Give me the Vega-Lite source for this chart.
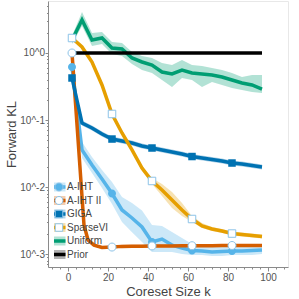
{
  "$schema": "https://vega.github.io/schema/vega-lite/v6.json",
  "width": 240,
  "height": 266,
  "autosize": {"type": "none"},
  "padding": {"left": 48, "top": 1, "right": 11, "bottom": 32},
  "config": {
    "font": "Liberation Sans",
    "view": {"stroke": "#e8e8e8", "strokeWidth": 1},
    "axis": {"grid": false, "domainColor": "#8a8a8a", "tickColor": "#8a8a8a", "labelColor": "#555555", "labelFontSize": 10, "titleColor": "#444444", "titleFontSize": 13, "titleFontWeight": "normal", "labelOverlap": false, "labelFlush": false},
    "legend": {"orient": "none", "legendX": 6, "legendY": 179.5, "title": null, "padding": 0, "labelFontSize": 10, "labelColor": "#444444", "symbolSize": 25, "rowPadding": 0.5, "labelOffset": 3, "clipHeight": 13}
  },
  "datasets": {
    "d": [
      {"s": "A-IHT", "k": 2, "v": 0.618, "lo": 0.557, "hi": 0.685},
      {"s": "A-IHT", "k": 7, "v": 0.0357, "lo": 0.0271, "hi": 0.0469},
      {"s": "A-IHT", "k": 12, "v": 0.0213, "lo": 0.0162, "hi": 0.028},
      {"s": "A-IHT", "k": 17, "v": 0.01316, "lo": 0.00966, "hi": 0.018},
      {"s": "A-IHT", "k": 22, "v": 0.008, "lo": 0.00557, "hi": 0.0119},
      {"s": "A-IHT", "k": 27, "v": 0.00454, "lo": 0.00301, "hi": 0.00709},
      {"s": "A-IHT", "k": 32, "v": 0.00345, "lo": 0.00212, "hi": 0.00577},
      {"s": "A-IHT", "k": 37, "v": 0.00253, "lo": 0.00151, "hi": 0.00447},
      {"s": "A-IHT", "k": 42, "v": 0.00151, "lo": 0.00107, "hi": 0.00271},
      {"s": "A-IHT", "k": 47, "v": 0.00167, "lo": 0.00107, "hi": 0.00262},
      {"s": "A-IHT", "k": 52, "v": 0.00136, "lo": 0.00107, "hi": 0.00213},
      {"s": "A-IHT", "k": 57, "v": 0.00123, "lo": 0.001, "hi": 0.00173},
      {"s": "A-IHT", "k": 62, "v": 0.00113, "lo": 0.000966, "hi": 0.00141},
      {"s": "A-IHT", "k": 67, "v": 0.00111, "lo": 0.000966, "hi": 0.00132},
      {"s": "A-IHT", "k": 72, "v": 0.00107, "lo": 0.000933, "hi": 0.00127},
      {"s": "A-IHT", "k": 77, "v": 0.00109, "lo": 0.000933, "hi": 0.00132},
      {"s": "A-IHT", "k": 82, "v": 0.00111, "lo": 0.000966, "hi": 0.00132},
      {"s": "A-IHT", "k": 87, "v": 0.00111, "lo": 0.000966, "hi": 0.00132},
      {"s": "A-IHT", "k": 92, "v": 0.00113, "lo": 0.000966, "hi": 0.00132},
      {"s": "A-IHT", "k": 97, "v": 0.00115, "lo": 0.001, "hi": 0.00132},

      {"s": "A-IHT II", "k": 2, "v": 1.0, "lo": 0.95, "hi": 1.05},
      {"s": "A-IHT II", "k": 8, "v": 0.00271, "lo": 0.00258, "hi": 0.00285},
      {"s": "A-IHT II", "k": 10, "v": 0.00162, "lo": 0.00154, "hi": 0.0017},
      {"s": "A-IHT II", "k": 13, "v": 0.00136, "lo": 0.0013, "hi": 0.00143},
      {"s": "A-IHT II", "k": 17, "v": 0.00125, "lo": 0.00119, "hi": 0.00131},
      {"s": "A-IHT II", "k": 22, "v": 0.00127, "lo": 0.00121, "hi": 0.00133},
      {"s": "A-IHT II", "k": 27, "v": 0.0013, "lo": 0.00124, "hi": 0.00137},
      {"s": "A-IHT II", "k": 32, "v": 0.00131, "lo": 0.00125, "hi": 0.00138},
      {"s": "A-IHT II", "k": 37, "v": 0.00131, "lo": 0.00125, "hi": 0.00138},
      {"s": "A-IHT II", "k": 42, "v": 0.00132, "lo": 0.00126, "hi": 0.00139},
      {"s": "A-IHT II", "k": 47, "v": 0.00132, "lo": 0.00126, "hi": 0.00139},
      {"s": "A-IHT II", "k": 52, "v": 0.00132, "lo": 0.00126, "hi": 0.00139},
      {"s": "A-IHT II", "k": 57, "v": 0.00133, "lo": 0.00127, "hi": 0.0014},
      {"s": "A-IHT II", "k": 62, "v": 0.00133, "lo": 0.00127, "hi": 0.0014},
      {"s": "A-IHT II", "k": 67, "v": 0.00133, "lo": 0.00127, "hi": 0.0014},
      {"s": "A-IHT II", "k": 72, "v": 0.00133, "lo": 0.00127, "hi": 0.0014},
      {"s": "A-IHT II", "k": 77, "v": 0.00134, "lo": 0.00128, "hi": 0.00141},
      {"s": "A-IHT II", "k": 82, "v": 0.00134, "lo": 0.00128, "hi": 0.00141},
      {"s": "A-IHT II", "k": 87, "v": 0.00134, "lo": 0.00128, "hi": 0.00141},
      {"s": "A-IHT II", "k": 92, "v": 0.00134, "lo": 0.00128, "hi": 0.00141},
      {"s": "A-IHT II", "k": 97, "v": 0.00134, "lo": 0.00128, "hi": 0.00141},

      {"s": "GIGA", "k": 2, "v": 0.4236, "lo": 0.389, "hi": 0.462},
      {"s": "GIGA", "k": 7, "v": 0.0902, "lo": 0.0828, "hi": 0.0983},
      {"s": "GIGA", "k": 12, "v": 0.076, "lo": 0.0697, "hi": 0.0828},
      {"s": "GIGA", "k": 17, "v": 0.0618, "lo": 0.0567, "hi": 0.0674},
      {"s": "GIGA", "k": 22, "v": 0.052, "lo": 0.0477, "hi": 0.0567},
      {"s": "GIGA", "k": 27, "v": 0.0486, "lo": 0.0446, "hi": 0.053},
      {"s": "GIGA", "k": 32, "v": 0.0454, "lo": 0.0417, "hi": 0.0495},
      {"s": "GIGA", "k": 37, "v": 0.0409, "lo": 0.0375, "hi": 0.0446},
      {"s": "GIGA", "k": 42, "v": 0.0382, "lo": 0.035, "hi": 0.0416},
      {"s": "GIGA", "k": 47, "v": 0.0357, "lo": 0.0328, "hi": 0.0389},
      {"s": "GIGA", "k": 52, "v": 0.0333, "lo": 0.0306, "hi": 0.0363},
      {"s": "GIGA", "k": 57, "v": 0.0311, "lo": 0.0285, "hi": 0.0339},
      {"s": "GIGA", "k": 62, "v": 0.0285, "lo": 0.0261, "hi": 0.0311},
      {"s": "GIGA", "k": 67, "v": 0.0271, "lo": 0.0249, "hi": 0.0295},
      {"s": "GIGA", "k": 72, "v": 0.0257, "lo": 0.0236, "hi": 0.028},
      {"s": "GIGA", "k": 77, "v": 0.0244, "lo": 0.0224, "hi": 0.0266},
      {"s": "GIGA", "k": 82, "v": 0.0228, "lo": 0.0209, "hi": 0.0249},
      {"s": "GIGA", "k": 87, "v": 0.022, "lo": 0.0202, "hi": 0.024},
      {"s": "GIGA", "k": 92, "v": 0.0209, "lo": 0.0192, "hi": 0.0228},
      {"s": "GIGA", "k": 97, "v": 0.0199, "lo": 0.0183, "hi": 0.0217},

      {"s": "SparseVI", "k": 2, "v": 1.674, "lo": 1.564, "hi": 1.795},
      {"s": "SparseVI", "k": 7, "v": 1.229, "lo": 1.147, "hi": 1.316},
      {"s": "SparseVI", "k": 12, "v": 0.734, "lo": 0.685, "hi": 0.786},
      {"s": "SparseVI", "k": 17, "v": 0.333, "lo": 0.3, "hi": 0.357},
      {"s": "SparseVI", "k": 22, "v": 0.123, "lo": 0.1148, "hi": 0.1317},
      {"s": "SparseVI", "k": 27, "v": 0.064, "lo": 0.0597, "hi": 0.0685},
      {"s": "SparseVI", "k": 32, "v": 0.0357, "lo": 0.0333, "hi": 0.0382},
      {"s": "SparseVI", "k": 37, "v": 0.0192, "lo": 0.0173, "hi": 0.0206},
      {"s": "SparseVI", "k": 42, "v": 0.0123, "lo": 0.0111, "hi": 0.0136},
      {"s": "SparseVI", "k": 47, "v": 0.00902, "lo": 0.00734, "hi": 0.0111},
      {"s": "SparseVI", "k": 52, "v": 0.0064, "lo": 0.00486, "hi": 0.00842},
      {"s": "SparseVI", "k": 57, "v": 0.00454, "lo": 0.00369, "hi": 0.00577},
      {"s": "SparseVI", "k": 62, "v": 0.00333, "lo": 0.00301, "hi": 0.00369},
      {"s": "SparseVI", "k": 67, "v": 0.00262, "lo": 0.00244, "hi": 0.0029},
      {"s": "SparseVI", "k": 72, "v": 0.00236, "lo": 0.0022, "hi": 0.00253},
      {"s": "SparseVI", "k": 77, "v": 0.0022, "lo": 0.00206, "hi": 0.00236},
      {"s": "SparseVI", "k": 82, "v": 0.00202, "lo": 0.00189, "hi": 0.00217},
      {"s": "SparseVI", "k": 87, "v": 0.00195, "lo": 0.00182, "hi": 0.00209},
      {"s": "SparseVI", "k": 92, "v": 0.00189, "lo": 0.00176, "hi": 0.00202},
      {"s": "SparseVI", "k": 97, "v": 0.00182, "lo": 0.0017, "hi": 0.00195},

      {"s": "Uniform", "k": 2, "v": 1.564, "lo": 1.362, "hi": 1.795},
      {"s": "Uniform", "k": 7, "v": 3.108, "lo": 2.529, "hi": 4.09},
      {"s": "Uniform", "k": 12, "v": 1.564, "lo": 1.272, "hi": 1.988},
      {"s": "Uniform", "k": 17, "v": 1.674, "lo": 1.362, "hi": 2.057},
      {"s": "Uniform", "k": 22, "v": 1.187, "lo": 0.966, "hi": 1.459},
      {"s": "Uniform", "k": 27, "v": 1.147, "lo": 0.902, "hi": 1.41},
      {"s": "Uniform", "k": 32, "v": 0.842, "lo": 0.685, "hi": 1.035},
      {"s": "Uniform", "k": 37, "v": 0.734, "lo": 0.557, "hi": 0.902},
      {"s": "Uniform", "k": 42, "v": 0.662, "lo": 0.503, "hi": 0.842},
      {"s": "Uniform", "k": 47, "v": 0.52, "lo": 0.395, "hi": 0.709},
      {"s": "Uniform", "k": 52, "v": 0.486, "lo": 0.311, "hi": 0.662},
      {"s": "Uniform", "k": 57, "v": 0.557, "lo": 0.424, "hi": 0.786},
      {"s": "Uniform", "k": 62, "v": 0.503, "lo": 0.395, "hi": 0.662},
      {"s": "Uniform", "k": 67, "v": 0.486, "lo": 0.311, "hi": 0.64},
      {"s": "Uniform", "k": 72, "v": 0.469, "lo": 0.369, "hi": 0.597},
      {"s": "Uniform", "k": 77, "v": 0.438, "lo": 0.333, "hi": 0.557},
      {"s": "Uniform", "k": 82, "v": 0.395, "lo": 0.3, "hi": 0.503},
      {"s": "Uniform", "k": 87, "v": 0.357, "lo": 0.281, "hi": 0.438},
      {"s": "Uniform", "k": 92, "v": 0.333, "lo": 0.262, "hi": 0.469},
      {"s": "Uniform", "k": 97, "v": 0.29, "lo": 0.253, "hi": 0.469},

      {"s": "Prior", "k": 2, "v": 1.0, "lo": 1.0, "hi": 1.0},
      {"s": "Prior", "k": 97, "v": 1.0, "lo": 1.0, "hi": 1.0}
    ]
  },
  "data": {"name": "d"},
  "encoding": {
    "x": {
      "field": "k", "type": "quantitative",
      "scale": {"domain": [-10, 110], "nice": false, "zero": false},
      "axis": {
        "title": "Coreset Size k",
        "values": [-8, -4, 0, 4, 8, 12, 16, 20, 24, 28, 32, 36, 40, 44, 48, 52, 56, 60, 64, 68, 72, 76, 80, 84, 88, 92, 96, 100, 104, 108],
        "labelExpr": "datum.value % 20 == 0 ? datum.label : ''",
        "tickSize": {"condition": {"test": "datum.value % 20 == 0", "value": 4}, "value": 2},
        "labelPadding": 1,
        "titlePadding": 3
      }
    }
  },
  "layer": [
    {
      "mark": {"type": "area", "opacity": 0.3},
      "encoding": {
        "y": {"field": "lo", "type": "quantitative"},
        "y2": {"field": "hi"},
        "fill": {
          "field": "s", "type": "nominal",
          "scale": {"domain": ["A-IHT", "A-IHT II", "GIGA", "SparseVI", "Uniform", "Prior"], "range": ["#56B4E9", "#D55E00", "#0072B2", "#E69F00", "#009E73", "#000000"]},
          "legend": {"zindex": 1, "symbolType": "M-2.6,-1.8H2.6V1.8H-2.6Z", "symbolOpacity": 0.3, "symbolStrokeWidth": 0}
        }
      }
    },
    {
      "mark": {"type": "line", "strokeWidth": 3.5},
      "encoding": {
        "y": {
          "field": "v", "type": "quantitative",
          "scale": {"type": "log", "domain": [0.00064, 5.97], "nice": false},
          "axis": {
            "title": "Forward KL",
            "values": [0.0007, 0.0008, 0.0009, 0.001, 0.002, 0.003, 0.004, 0.005, 0.006, 0.007, 0.008, 0.009, 0.01, 0.02, 0.03, 0.04, 0.05, 0.06, 0.07, 0.08, 0.09, 0.1, 0.2, 0.3, 0.4, 0.5, 0.6, 0.7, 0.8, 0.9, 1, 2, 3, 4, 5],
            "labelExpr": "abs(log(datum.value)/LN10 - round(log(datum.value)/LN10)) < 0.000001 ? '10^' + round(log(datum.value)/LN10) : ''",
            "tickSize": {"condition": {"test": "abs(log(datum.value)/LN10 - round(log(datum.value)/LN10)) < 0.000001", "value": 3}, "value": 1.5},
            "labelPadding": 0.5,
            "titlePadding": 1
          }
        },
        "stroke": {
          "field": "s", "type": "nominal",
          "sort": ["A-IHT", "A-IHT II", "GIGA", "SparseVI", "Uniform", "Prior"],
          "scale": {"range": ["#56B4E9", "#D55E00", "#0072B2", "#E69F00", "#009E73", "#000000"]},
          "legend": {"zindex": 2, "symbolType": "M-2.6,0H2.6", "symbolStrokeWidth": 3.5, "labelExpr": "''"}
        }
      }
    },
    {
      "transform": [{"filter": "(datum.s == 'A-IHT' || datum.s == 'GIGA') && indexof([2, 22, 42, 62, 82], datum.k) >= 0"}],
      "mark": {"type": "point", "filled": true, "size": 25, "opacity": 1, "strokeWidth": 0},
      "encoding": {
        "y": {"field": "v", "type": "quantitative"},
        "shape": {
          "field": "s", "type": "nominal",
          "scale": {"domain": ["A-IHT", "A-IHT II", "GIGA", "SparseVI"], "range": ["M-1.6,0A1.6,1.6 0 1,0 1.6,0A1.6,1.6 0 1,0 -1.6,0Z", "M-1.6,0A1.6,1.6 0 1,0 1.6,0A1.6,1.6 0 1,0 -1.6,0Z", "M-1.5,-1.5H1.5V1.5H-1.5Z", "M-1.5,-1.5H1.5V1.5H-1.5Z"]},
          "legend": {"zindex": 3, "symbolStrokeColor": "#8cc3e8", "symbolStrokeWidth": 1, "symbolOpacity": 1, "labelExpr": "''"}
        },
        "color": {
          "field": "s", "type": "nominal",
          "scale": {"domain": ["A-IHT", "A-IHT II", "GIGA", "SparseVI"], "range": ["#56B4E9", "#ffffff", "#0072B2", "#ffffff"]},
          "legend": {"zindex": 3, "symbolStrokeColor": "#8cc3e8", "symbolStrokeWidth": 1, "symbolOpacity": 1, "labelExpr": "''"}
        }
      }
    },
    {
      "transform": [{"filter": "(datum.s == 'A-IHT II' || datum.s == 'SparseVI') && indexof([2, 22, 42, 62, 82], datum.k) >= 0"}],
      "mark": {"type": "point", "filled": true, "size": 25, "stroke": "#8cc3e8", "strokeWidth": 1, "opacity": 1},
      "encoding": {
        "y": {"field": "v", "type": "quantitative"},
        "shape": {"field": "s", "type": "nominal"},
        "color": {"field": "s", "type": "nominal"}
      }
    }
  ]
}
